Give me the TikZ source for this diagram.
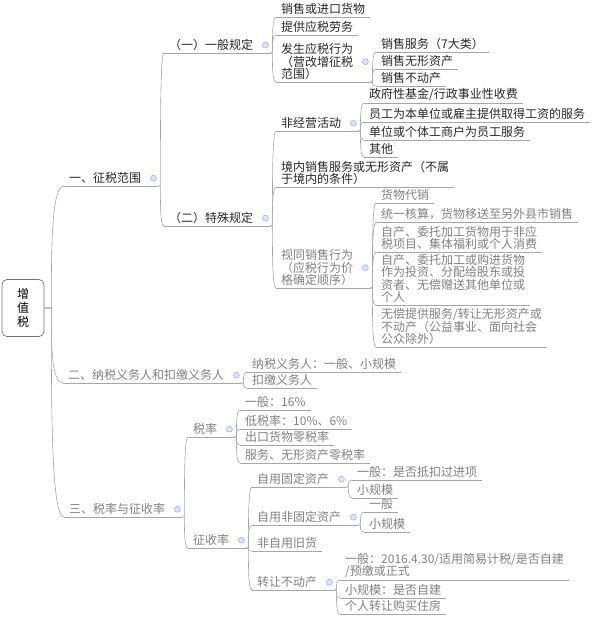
\documentclass[tikz,border=0pt]{standalone}
\usepackage{fontspec}
\setmainfont{Noto Sans CJK SC}
\usetikzlibrary{calc}

\begin{document}
\begin{tikzpicture}[x=1pt,y=-1pt,font=\fontsize{12}{12.5}\selectfont,
	topic/.style={anchor=south west,inner xsep=5pt,inner ysep=2pt,align=left,text=black!85},
	faded/.style={topic,text=black!50},
	rule/.style={draw=black!35,line width=0.6pt},
	fold/.style={circle,draw=blue!40,fill=blue!12,inner sep=0pt,minimum size=6pt},
	rootbox/.style={draw=black!55,fill=white,rounded corners=5pt,line width=0.7pt,minimum width=42pt,minimum height=57pt,align=center,font=\fontsize{12}{14}\selectfont}]
	\useasboundingbox (0,0) rectangle (600,620);

	\node[rootbox] (vat) at (23,308) {增\\值\\税};

	\node[topic] (scope) at (64,186) {一、征税范围};
	\node[faded] (payer) at (63,383) {二、纳税义务人和扣缴义务人};
	\node[faded] (rates) at (64,517) {三、税率与征收率};

	\node[topic] (general) at (164,53) {（一）一般规定};
	\node[topic] (special) at (164,226) {（二）特殊规定};

	\node[topic] (goods) at (276,17) {销售或进口货物};
	\node[topic] (labour) at (276,35) {提供应税劳务};
	\node[topic] (taxable) at (276,82) {发生应税行为\\（营改增征税\\范围）};
	\node[topic] (service) at (376,52) {销售服务（7大类）};
	\node[topic] (intangible) at (376,69) {销售无形资产};
	\node[topic] (estate) at (376,86) {销售不动产};

	\node[topic] (nonbiz) at (276,131) {非经营活动};
	\node[topic] (domestic) at (276,187) {境内销售服务或无形资产（不属\\于境内的条件）};
	\node[faded] (deemed) at (276,288) {视同销售行为\\（应税行为价\\格确定顺序）};
	\node[topic] (fund) at (364,103) {政府性基金/行政事业性收费};
	\node[topic] (staff) at (364,122) {员工为本单位或雇主提供取得工资的服务};
	\node[topic] (unit) at (364,140) {单位或个体工商户为员工服务};
	\node[topic] (other) at (364,157) {其他};
	\node[faded] (consign) at (376,203) {货物代销};
	\node[faded] (transfer) at (376,222) {统一核算，货物移送至另外县市销售};
	\node[faded] (selfuse) at (376,252) {自产、委托加工货物用于非应\\税项目、集体福利或个人消费};
	\node[faded] (invest) at (376,305) {自产、委托加工或购进货物\\作为投资、分配给股东或投\\资者、无偿赠送其他单位或\\个人};
	\node[faded] (gift) at (376,347) {无偿提供服务/转让无形资产或\\不动产（公益事业、面向社会\\公众除外）};

	\node[faded] (taxpayer) at (247,372) {纳税义务人：一般、小规模};
	\node[faded] (withhold) at (247,388) {扣缴义务人};

	\node[faded] (taxrate) at (188,437) {税率};
	\node[faded] (levy) at (188,548) {征收率};
	\node[faded] (basic) at (240,410) {一般：16\%};
	\node[faded] (low) at (240,429) {低税率：10\%、6\%};
	\node[faded] (export) at (240,445) {出口货物零税率};
	\node[faded] (zero) at (240,463) {服务、无形资产零税率};

	\node[faded] (fixed) at (252,487) {自用固定资产};
	\node[faded] (nonfixed) at (252,525) {自用非固定资产};
	\node[faded] (used) at (252,551) {非自用旧货};
	\node[faded] (property) at (252,590) {转让不动产};
	\node[faded] (fixedgen) at (352,480) {一般：是否抵扣过进项};
	\node[faded] (fixedsmall) at (352,498) {小规模};
	\node[faded] (nonfixedgen) at (364,512) {一般};
	\node[faded] (nonfixedsmall) at (364,532) {小规模};
	\node[faded] (propgen) at (340,580) {一般：2016.4.30/适用简易计税/是否自建\\/预缴或正式};
	\node[faded] (propsmall) at (340,598) {小规模：是否自建};
	\node[faded] (housing) at (340,614) {个人转让购买住房};

	\foreach \hub in {scope,payer,rates,general,special,taxable,nonbiz,deemed,taxrate,levy,fixed,nonfixed,property} {
		\coordinate (\hub-end) at ([xshift=12pt]\hub.south east);
		\draw[rule] (\hub.south west) -- (\hub-end);
		\node[fold] at ([xshift=7pt]\hub.east) {};
	}
	\foreach \leaf in {goods,labour,service,intangible,estate,domestic,fund,staff,unit,other,consign,transfer,selfuse,invest,gift,taxpayer,withhold,basic,low,export,zero,used,fixedgen,fixedsmall,nonfixedgen,nonfixedsmall,propgen,propsmall,housing}
		\draw[rule] (\leaf.south west) -- (\leaf.south east);

	\foreach \to in {scope,payer,rates}
		\draw[rule] (vat.east) -- ++(7,0) coordinate (bend) .. controls ($(bend)!0.5!(bend |- \to.south west)$) and (bend |- \to.south west) .. (\to.south west);
	\foreach \from/\to in {scope/general,scope/special,general/goods,general/labour,general/taxable,taxable/service,taxable/intangible,taxable/estate,special/nonbiz,special/domestic,special/deemed,nonbiz/fund,nonbiz/staff,nonbiz/unit,nonbiz/other,deemed/consign,deemed/transfer,deemed/selfuse,deemed/invest,deemed/gift,payer/taxpayer,payer/withhold,rates/taxrate,rates/levy,taxrate/basic,taxrate/low,taxrate/export,taxrate/zero,levy/fixed,levy/nonfixed,levy/used,levy/property,fixed/fixedgen,fixed/fixedsmall,nonfixed/nonfixedgen,nonfixed/nonfixedsmall,property/propgen,property/propsmall,property/housing}
		\draw[rule] (\from-end) -- ++(2,0) coordinate (bend) .. controls ($(bend)!0.5!(bend |- \to.south west)$) and (bend |- \to.south west) .. (\to.south west);
\end{tikzpicture}
\end{document}
